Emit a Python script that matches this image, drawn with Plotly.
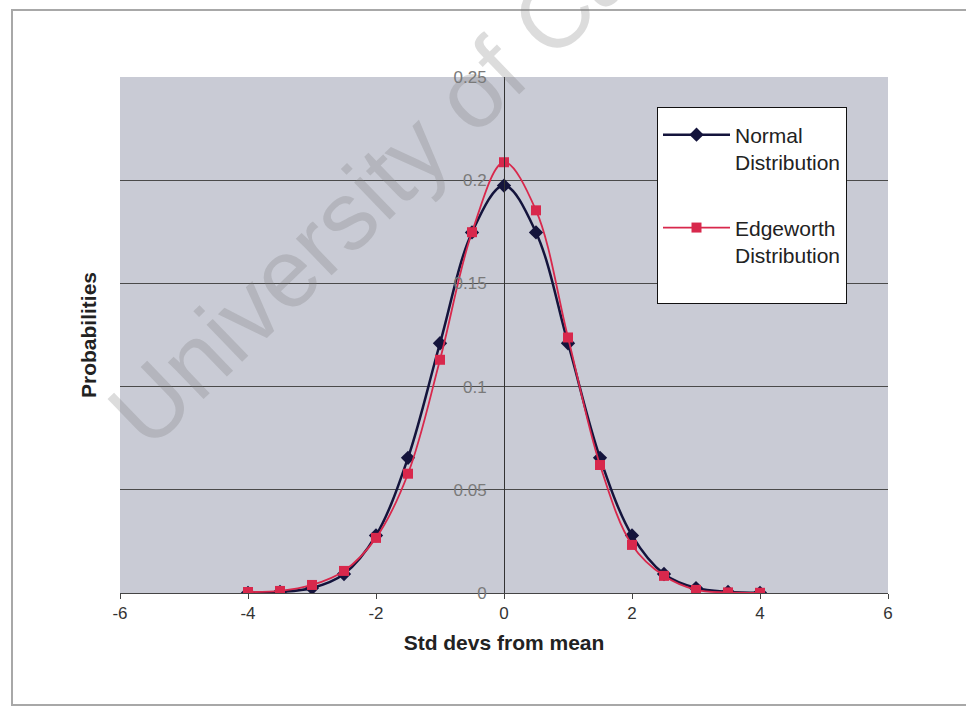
import plotly.graph_objects as go

# Standard deviations from the mean (bin centres)
std_devs = [-4, -3.5, -3, -2.5, -2, -1.5, -1, -0.5, 0, 0.5, 1, 1.5, 2, 2.5, 3, 3.5, 4]

# Bin probabilities for each distribution
normal_probs = [0.0001, 0.0005, 0.0024, 0.0092, 0.0279, 0.0655, 0.1210, 0.1747, 0.1974,
                0.1747, 0.1210, 0.0655, 0.0279, 0.0092, 0.0024, 0.0005, 0.0001]
edgeworth_probs = [0.0005, 0.0010, 0.0039, 0.0107, 0.0267, 0.0578, 0.1130, 0.1748, 0.2087,
                   0.1854, 0.1238, 0.0620, 0.0233, 0.0083, 0.0015, 0.0003, 0.0001]

x_ticks = [-6, -4, -2, 0, 2, 4, 6]
x_tick_text = ["-6", "-4", "-2", "0", "2", "4", "6"]
y_ticks = [0, 0.05, 0.1, 0.15, 0.2, 0.25]
y_tick_text = ["0", "0.05", "0.1", "0.15", "0.2", "0.25"]

FONT = "Arial, Liberation Sans, sans-serif"

fig = go.Figure()

# Legend labels carry a trailing blank line for spacing inside the legend box
fig.add_trace(go.Scatter(
    x=std_devs, y=normal_probs, name="Normal<br>Distribution<br> ", legendgroup="normal",
    mode="lines+markers", line=dict(color="#14143c", width=2.5, shape="spline"),
    marker=dict(symbol="diamond", size=11, color="#14143c"),
))
fig.add_trace(go.Scatter(
    x=std_devs, y=edgeworth_probs, name="Edgeworth<br>Distribution<br> ", legendgroup="edgeworth",
    mode="lines+markers", line=dict(color="#d8284c", width=1.8, shape="spline"),
    marker=dict(symbol="square", size=10, color="#d8284c"),
))

L, R, T, B = 120, 78, 77, 114
W, H = 966, 707
pw, ph = W - L - R, H - T - B


def px_x(px):
    return (px - L) / pw


def px_y(py):
    return (H - B - py) / ph


fig.update_layout(
    width=W, height=H,
    margin=dict(l=L, r=R, t=T, b=B),
    paper_bgcolor="white",
    plot_bgcolor="#c9cbd5",
    font=dict(family=FONT, size=16, color="#222"),
    showlegend=True,
    legend=dict(
        x=px_x(657), y=px_y(107), xanchor="left", yanchor="top",
        bgcolor="white", bordercolor="#111", borderwidth=1,
        font=dict(family=FONT, size=21, color="#222"),
        itemwidth=67, tracegroupgap=8, valign="top",
        title=dict(text=" ", font=dict(size=5)),
    ),
    xaxis=dict(
        range=[-6, 6], tickvals=x_ticks, ticktext=x_tick_text,
        showgrid=False, zeroline=False,
        showline=True, linecolor="#444", linewidth=1,
        ticks="outside", ticklen=5, tickcolor="#444",
        tickfont=dict(family=FONT, size=17, color="#333"),
        title=dict(text="<b>Std devs from mean</b>", standoff=12,
                   font=dict(family=FONT, size=21, color="#222")),
    ),
    yaxis=dict(
        range=[0, 0.25], tickvals=y_ticks, ticktext=y_tick_text,
        anchor="free", position=0.5,
        showgrid=True, gridcolor="#4a4a4a", gridwidth=1, zeroline=False,
        showline=True, linecolor="#333", linewidth=1,
        ticks="", ticklabelstandoff=14,
        tickfont=dict(family=FONT, size=17, color="#7a7a7a"),
    ),
    annotations=[
        dict(text="<b>Probabilities</b>", xref="paper", yref="paper",
             x=px_x(88), y=0.5, xanchor="center", yanchor="middle",
             textangle=-90, showarrow=False,
             font=dict(family=FONT, size=21, color="#222")),
        dict(text="University of Cape Town", xref="paper", yref="paper",
             x=px_x(501), y=px_y(66), xanchor="center", yanchor="middle",
             textangle=-44, showarrow=False,
             font=dict(family=FONT, size=97, color="rgba(120,120,120,0.26)")),
    ],
    shapes=[
        dict(type="rect", xref="paper", yref="paper",
             x0=px_x(12), x1=px_x(975), y0=px_y(705), y1=px_y(10),
             line=dict(color="#a8a8a8", width=2), layer="below"),
    ],
)

fig.write_html("out.html")
